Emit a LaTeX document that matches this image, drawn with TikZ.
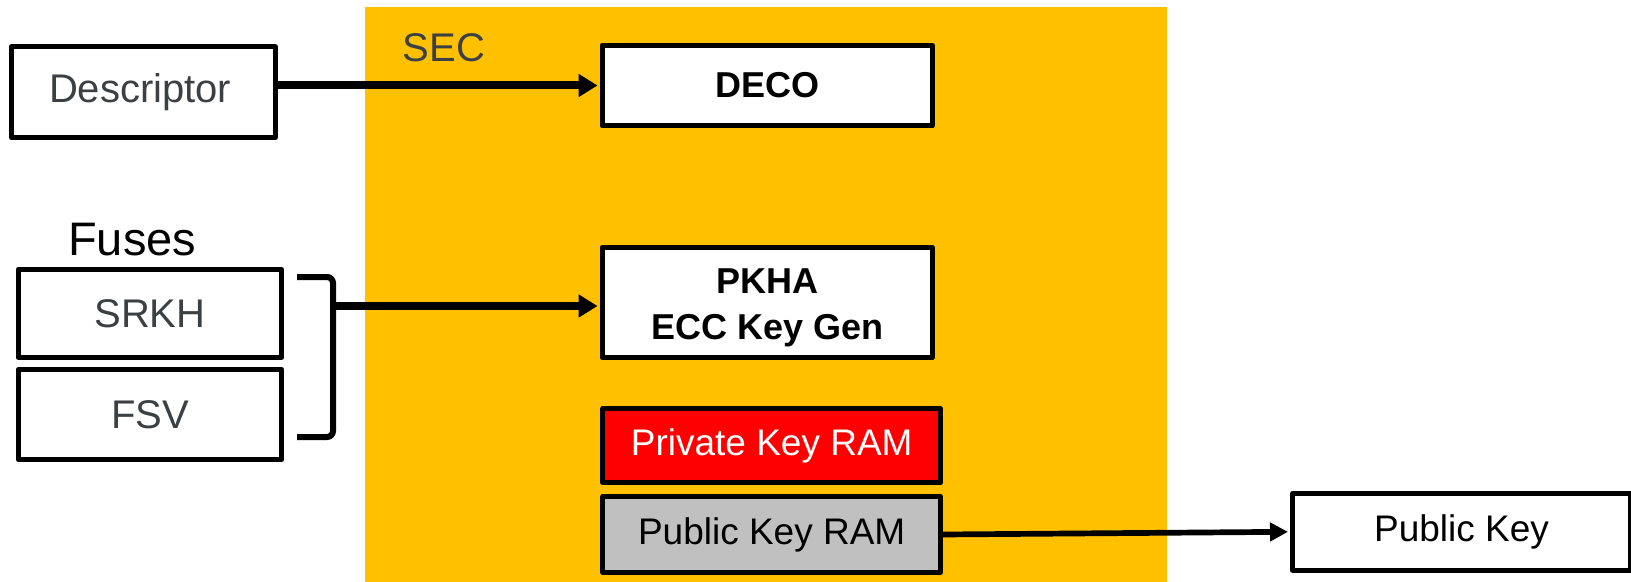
\documentclass[tikz,border=0pt]{standalone}
\usepackage{fontspec}
\setmainfont{Liberation Sans}
\usetikzlibrary{arrows.meta}
\definecolor{secorange}{HTML}{FFC000}
\definecolor{keyred}{HTML}{FF0000}
\definecolor{keygray}{HTML}{C0C0C0}
\definecolor{labelgray}{HTML}{3C4043}

\begin{document}
\begin{tikzpicture}[x=1bp,y=-1bp,
  blk/.style={draw=black, line width=5bp, fill=white, rectangle, inner sep=0pt,
              line join=round},
  greytxt/.style={font=\fontsize{40bp}{47bp}\selectfont, text=labelgray},
  boldtxt/.style={font=\fontsize{36bp}{46bp}\selectfont\bfseries, text=black, align=center},
  ramtxt/.style={font=\fontsize{37bp}{44bp}\selectfont},
  thickarrow/.style={line width=8bp, -{Triangle[length=19bp,width=22bp]}, shorten >=2bp},
  thinarrow/.style={line width=5.7bp, -{Triangle[length=18bp,width=18bp]}, shorten >=2bp},
  bracketline/.style={line width=6bp, rounded corners=6bp}
]
\useasboundingbox (0,0) rectangle (1631,582);

% SEC block background
\fill[secorange] (364.6,7.3) rectangle (1166.5,582);
\node[anchor=base west, inner sep=0pt, greytxt] (seclabel) at (402.5,61.7) {SEC};

% inputs on the left
\node[blk, greytxt, minimum width=263.9bp, minimum height=90.7bp] (desc) at (143.2,92.2) {\hspace*{-6bp}Descriptor};
\node[anchor=base west, inner sep=0pt, font=\fontsize{47bp}{56bp}\selectfont] (fuses) at (68,255) {Fuses};
\node[blk, greytxt, minimum width=263.2bp, minimum height=88.3bp] (srkh) at (149.9,313.3) {SRKH};
\node[blk, greytxt, minimum width=263.2bp, minimum height=90.6bp] (fsv) at (149.9,414.5) {FSV};

% SEC internals
\node[blk, boldtxt, minimum width=330.3bp, minimum height=80.6bp] (deco) at (767.2,85.5) {DECO};
\node[blk, boldtxt, text height=82bp, minimum width=330.3bp, minimum height=110bp] (pkha) at (767.2,302.5) {PKHA\\ECC Key Gen};
\node[blk, ramtxt, fill=keyred, text=white, minimum width=337.5bp, minimum height=74.3bp] (privram) at (771.7,445.7) {Private Key RAM};
\node[blk, ramtxt, fill=keygray, text=black, minimum width=337.5bp, minimum height=76bp] (pubram) at (771.7,534.5) {Public Key RAM};

% output
\node[blk, ramtxt, minimum width=338bp, minimum height=76.7bp] (pubkey) at (1461.5,531.8) {Public Key};

% bracket grouping the fuses
\coordinate (brkT) at (297,277);
\coordinate (brkB) at (297,437);
\coordinate (brkM) at (333,306);
\draw[bracketline] (brkT) -- (brkM |- brkT) -- (brkM |- brkB) -- (brkB);

% connectors
\draw[thickarrow] (desc.east |- deco.west) -- (deco.west);
\draw[thickarrow] (brkM) -- (pkha.west |- brkM);
\draw[thinarrow] (pubram.east) -- (pubkey.west);
\end{tikzpicture}
\end{document}
